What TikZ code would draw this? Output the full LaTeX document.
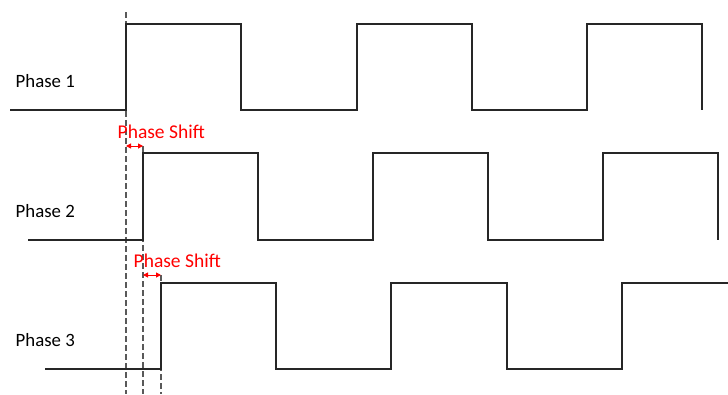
\documentclass[tikz,border=0pt]{standalone}
\usepackage{fontspec}
\setmainfont{Carlito}
\usetikzlibrary{arrows.meta}
\begin{document}
\begin{tikzpicture}[x=1pt,y=-1pt,
  wave/.style={line width=1.4pt,draw=black!85},
  guide/.style={line width=1.1pt,draw=black!65,dash pattern=on 6pt off 3pt},
  shiftarrow/.style={red,line width=1pt,{Triangle[length=5pt,width=5pt]}-{Triangle[length=5pt,width=5pt]}},
  phaselabel/.style={anchor=base west,font=\fontsize{18.8}{22}\selectfont,inner sep=0pt},
  shiftlabel/.style={anchor=base west,font=\fontsize{19.5}{23}\selectfont,text=red,inner sep=0pt}]
\useasboundingbox (0,0) rectangle (728,394);
% guides
\draw[guide] (126,12) -- (126,394);
\draw[guide] (143,146) -- (143,394);
\draw[guide] (161,275) -- (161,394);
% waveforms
\draw[wave] (10,110) -- (126,110) -- (126,24) -- (241,24) -- (241,110) -- (357,110) -- (357,24) -- (472,24) -- (472,110) -- (587,110) -- (587,24) -- (702,24) -- (702,110);
\draw[wave] (28,240) -- (143,240) -- (143,153) -- (258,153) -- (258,240) -- (373,240) -- (373,153) -- (488,153) -- (488,240) -- (603,240) -- (603,153) -- (718,153) -- (718,240);
\draw[wave] (45,369) -- (161,369) -- (161,283) -- (276,283) -- (276,369) -- (391,369) -- (391,283) -- (507,283) -- (507,369) -- (622,369) -- (622,283) -- (728,283);
% labels
\node[phaselabel] (p1) at (15.5,87) {Phase 1};
\node[phaselabel] (p2) at (15.5,217) {Phase 2};
\node[phaselabel] (p3) at (15.5,346) {Phase 3};
\node[shiftlabel] (s1) at (117.5,138) {Phase Shift};
\node[shiftlabel] (s2) at (133.5,267.3) {Phase Shift};
% shift arrows
\coordinate (a1) at (126,146);
\coordinate (b1) at (143,146);
\coordinate (a2) at (143,275);
\coordinate (b2) at (161,275);
\draw[shiftarrow] (a1) -- (b1);
\draw[shiftarrow] (a2) -- (b2);
\end{tikzpicture}
\end{document}
